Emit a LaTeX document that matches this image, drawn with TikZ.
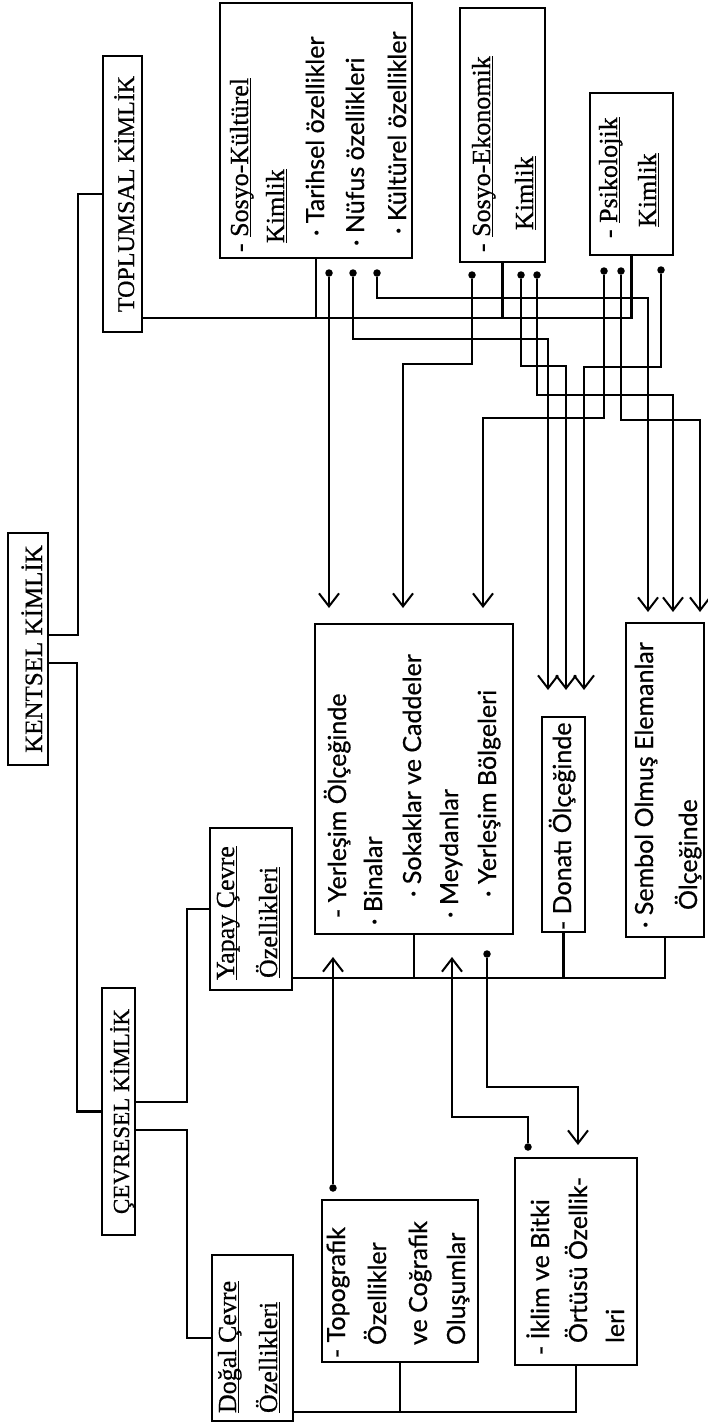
\documentclass[tikz,border=0pt]{standalone}
\usepackage{fontspec}
\setmainfont{Liberation Serif}[FakeBold=0.6]
\newfontfamily\sansf{Lato}[FakeBold=0.6]
\usetikzlibrary{arrows.meta,fit}
\newcommand{\fs}[1]{\fontsize{#1}{#1}\selectfont}
\newcommand{\ulx}[1]{\setbox0\hbox{#1}\leavevmode\rlap{\rule[-3.4pt]{\wd0}{1.6pt}}\box0}
\begin{document}
\begin{tikzpicture}[x=1pt,y=-1pt, line width=2.2pt,
 bx/.style={draw, inner sep=0pt, outer sep=0pt, line width=2.2pt},
 tx/.style={rotate=90, anchor=base west, inner sep=0pt, outer sep=0pt},
 hd/.style={rotate=90, anchor=base, inner sep=0pt, outer sep=0pt},
 ser/.style={font=\fs{26}},
 sns/.style={font=\sansf\fs{25}},
 arr/.style={-{Straight Barb[length=13pt,width=20pt,line width=2pt]}},
 dotc/.style={circle, fill, inner sep=0pt, outer sep=0pt, minimum size=7.5pt}
]
\useasboundingbox (0,0) rectangle (707,1424);
\fill[white] (0,0) rectangle (707,1424);

% boxes
\node[bx, fit={(8,533) (48,765)}] (kent) {};
\node[bx, fit={(103,56) (142,332)}] (topl) {};
\node[bx, fit={(102,988) (135,1235)}] (cevr) {};
\node[bx, fit={(210,828) (292,990)}] (yapay) {};
\node[bx, fit={(212,1255) (293,1421)}] (dogal) {};
\node[bx, fit={(220,3) (412,258)}] (sk) {};
\node[bx, fit={(460,8) (545,262)}] (se) {};
\node[bx, fit={(590,93) (673,255)}] (ps) {};
\node[bx, fit={(315,624) (513,934)}] (yer) {};
\node[bx, fit={(542,717) (585,932)}] (don) {};
\node[bx, fit={(626,623) (704,937)}] (sem) {};
\node[bx, fit={(322,1200) (478,1362)}] (topo) {};
\node[bx, fit={(515,1158) (637,1365)}] (ikl) {};

% headings
\node[hd, font=\fs{25}] (kentT) at (42,649) {KENTSEL KİMLİK};
\node[hd, font=\fs{24}] (toplT) at (134,194) {TOPLUMSAL KİMLİK};
\node[hd, font=\fs{23}] (cevrT) at (129,1111.5) {ÇEVRESEL KİMLİK};

% texts
\node[tx,ser] (yapT1) at (234,980) {\ulx{Yapay Çevre}};
\node[tx,ser] (yapT2) at (277,978) {\ulx{Özellikleri}};
\node[tx,ser] (dogT1) at (236,1413) {\ulx{Doğal Çevre}};
\node[tx,ser] (dogT2) at (277,1413) {\ulx{Özellikleri}};

\node[tx,ser] (skT1) at (248,252) {- \ulx{Sosyo-Kültürel}};
\node[tx,ser] (skT2) at (284,243) {\ulx{Kimlik}};
\node[tx,sns] (skT3) at (324,236) {· Tarihsel özellikler};
\node[tx,sns] (skT4) at (364,246) {· Nüfus özellikleri};
\node[tx,sns] (skT5) at (406,234) {· Kültürel özellikler};

\node[tx,ser] (seT1) at (490,252) {- \ulx{Sosyo-Ekonomik}};
\node[tx,ser] (seT2) at (533,230) {\ulx{Kimlik}};

\node[tx,ser] (psT1) at (617,238) {- \ulx{Psikolojik}};
\node[tx,ser] (psT2) at (656,227) {\ulx{Kimlik}};

\node[tx,sns] (yerT1) at (346,918) {- Yerleşim Ölçeğinde};
\node[tx,sns] (yerT2) at (382,925) {· Binalar};
\node[tx,sns] (yerT3) at (421,897) {· Sokaklar ve Caddeler};
\node[tx,sns] (yerT4) at (458,918) {· Meydanlar};
\node[tx,sns] (yerT5) at (496,897) {· Yerleşim Bölgeleri};

\node[tx,sns] (donT1) at (571,930) {- Donatı Ölçeğinde};

\node[tx,sns] (semT1) at (653,928) {· Sembol Olmuş Elemanlar};
\node[tx,sns] (semT2) at (697,910) {Ölçeğinde};

\node[tx,sns] (topoT1) at (345,1358) {- Topografik};
\node[tx,sns] (topoT2) at (386,1345) {Özellikler};
\node[tx,sns] (topoT3) at (427,1345) {ve Coğrafik};
\node[tx,sns] (topoT4) at (465,1345) {Oluşumlar};

\node[tx,sns] (iklT1) at (549,1355) {- İklim ve Bitki};
\node[tx,sns] (iklT2) at (587,1343) {Örtüsü Özellik-};
\node[tx,sns] (iklT3) at (624,1343) {leri};

% hierarchy connectors
\draw ([yshift=14pt]kent.east) -- ++(30,0) |- (topl.west);
\draw ([yshift=-14pt]kent.east) -- ++(29,0) |- (cevr.west);
\draw ([yshift=9.5pt]cevr.east) -- ++(52,0) |- (yapay.west);
\draw ([yshift=-18.5pt]cevr.east) -- ++(52,0) |- (dogal.west);

% buses
\coordinate (tb) at ([yshift=14pt]topl.south east);
\draw (tb) -| (ps.south);
\draw (sk.south) -- (sk.south |- tb);
\draw (se.south) -- (se.south |- tb);

\coordinate (yb) at ([yshift=12pt]yapay.south east);
\draw (yb) -| (sem.south);
\draw (yer.south) -- (yer.south |- yb);
\draw (don.south) -- (don.south |- yb);

\coordinate (db) at ([yshift=9pt]dogal.south east);
\draw (db) -| (ikl.south);
\draw (topo.south) -- (topo.south |- db);

% dots
\node[dotc] (k1) at (329,273) {};
\node[dotc] (k2) at (353,273) {};
\node[dotc] (k3) at (377,273) {};
\node[dotc] (e1) at (472,275) {};
\node[dotc] (e2) at (521,275) {};
\node[dotc] (e3) at (537,275) {};
\node[dotc] (p1) at (604,271) {};
\node[dotc] (p2) at (621,271) {};
\node[dotc] (p3) at (661,270) {};

\coordinate (bk2) at (548,339);
\coordinate (bk3) at (648,298);
\coordinate (be1) at (403,364);
\coordinate (be2) at (566,366);
\coordinate (be3) at (673,395);
\coordinate (bp1) at (483,418);
\coordinate (bp2) at (700,420);
\coordinate (bp3) at (584,367);

\draw[arr, shorten >=16pt] (k1) -- (k1 |- yer.north);
\draw[arr, shorten >=27pt] (k2) |- (bk2) -- (bk2 |- don.north);
\draw[arr, shorten >=11pt] (k3) |- (bk3) -- (bk3 |- sem.north);
\draw[arr, shorten >=16pt] (e1) |- (be1) -- (be1 |- yer.north);
\draw[arr, shorten >=27pt] (e2) |- (be2) -- (be2 |- don.north);
\draw[arr, shorten >=11pt] (e3) |- (be3) -- (be3 |- sem.north);
\draw[arr, shorten >=16pt] (p1) |- (bp1) -- (bp1 |- yer.north);
\draw[arr, shorten >=11pt] (p2) |- (bp2) -- (bp2 |- sem.north);
\draw[arr, shorten >=27pt] (p3) |- (bp3) -- (bp3 |- don.north);

% lower links
\node[dotc] (t1) at (333,1188) {};
\node[dotc] (i1) at (528,1147) {};
\node[dotc] (y1) at (487,954) {};
\coordinate (bi1) at (452,1117);
\coordinate (by1) at (578,1087);
\draw[arr, shorten >=23pt] (t1) -- (t1 |- yer.south);
\draw[arr, shorten >=23pt] (i1) |- (bi1) -- (bi1 |- yer.south);
\draw[arr, shorten >=13pt] (y1) |- (by1) -- (by1 |- ikl.north);
\end{tikzpicture}
\end{document}
